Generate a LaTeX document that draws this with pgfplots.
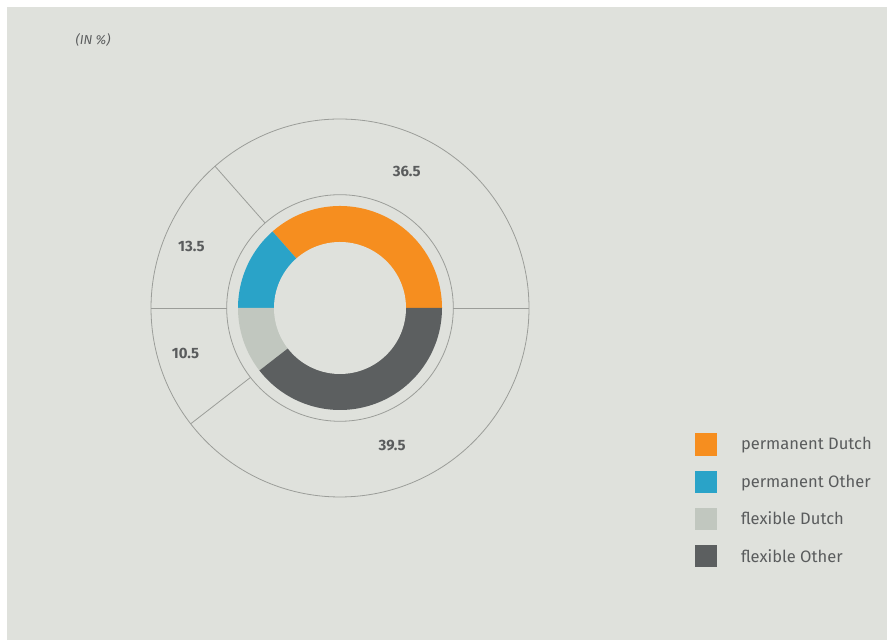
\documentclass[border=0pt]{standalone}
\usepackage{fontspec}
\setmainfont{Fira Sans}
\usepackage{pgfplots}
\pgfplotsset{compat=1.18}
\definecolor{bg}{HTML}{DFE1DC}
\definecolor{cPD}{HTML}{F68E1F}
\definecolor{cPO}{HTML}{2AA3C8}
\definecolor{cFD}{HTML}{C1C7BF}
\definecolor{cFO}{HTML}{5C5F60}
\definecolor{linec}{HTML}{9B9D99}
\definecolor{txt}{HTML}{5A5C5D}
% data (in %)
\def\vPD{36.5}\def\vPO{13.5}\def\vFD{10.5}\def\vFO{39.5}
\pgfmathsetmacro\aA{3.6*\vPD}
\pgfmathsetmacro\aB{3.6*(\vPD+\vPO)}
\pgfmathsetmacro\aC{3.6*(\vPD+\vPO+\vFD)}
\pgfmathsetmacro\aD{3.6*(\vPD+\vPO+\vFD+\vFO)}
\def\cx{340}\def\cy{332}
\begin{document}
\begin{tikzpicture}
\begin{axis}[
  scale only axis, width=887bp, height=640bp,
  xmin=0, xmax=887, ymin=0, ymax=640,
  hide axis, clip=false,
  legend image code/.code={\fill[#1] (0bp,-11.15bp) rectangle (22.3bp,11.15bp);},
  legend style={at={(axis cs:695,206.7)}, anchor=north west, draw=none, fill=none,
    inner sep=0pt, outer sep=0pt, row sep=15bp,
    font=\fontsize{16.6}{18}\selectfont, text=txt,
    nodes={inner sep=0pt},
    /tikz/every odd column/.append style={column sep=23.7bp}},
  legend cell align=left,
]
% white page and background panel
\addplot[fill=white, draw=none, forget plot] coordinates {(0,0) (887,0) (887,640) (0,640)} -- cycle;
\addplot[fill=bg, draw=none, forget plot] coordinates {(7,0) (887,0) (887,633) (7,633)} -- cycle;
% wedges
\addplot[fill=cPD, draw=none, domain=0:\aA, samples=120] ({\cx+102*cos(x)},{\cy+102*sin(x)}) -- (\cx,\cy) -- cycle;
\addplot[fill=cPO, draw=none, domain=\aA:\aB, samples=60] ({\cx+102*cos(x)},{\cy+102*sin(x)}) -- (\cx,\cy) -- cycle;
\addplot[fill=cFD, draw=none, domain=\aB:\aC, samples=60] ({\cx+102*cos(x)},{\cy+102*sin(x)}) -- (\cx,\cy) -- cycle;
\addplot[fill=cFO, draw=none, domain=\aC:\aD, samples=120] ({\cx+102*cos(x)},{\cy+102*sin(x)}) -- (\cx,\cy) -- cycle;
% hole
\addplot[fill=bg, draw=none, domain=0:360, samples=180, forget plot] ({\cx+66*cos(x)},{\cy+66*sin(x)}) -- cycle;
% ring and big circle
\addplot[draw=linec, line width=0.8bp, domain=0:360, samples=180, forget plot] ({\cx+113.3*cos(x)},{\cy+113.3*sin(x)});
\addplot[draw=linec, line width=0.8bp, domain=0:360, samples=240, forget plot] ({\cx+189*cos(x)},{\cy+189*sin(x)});
% radial separators
\addplot[draw=linec, line width=0.8bp, domain=113.3:189, samples=2, forget plot] ({\cx+x*cos(0)},{\cy+x*sin(0)});
\addplot[draw=linec, line width=0.8bp, domain=113.3:189, samples=2, forget plot] ({\cx+x*cos(\aA)},{\cy+x*sin(\aA)});
\addplot[draw=linec, line width=0.8bp, domain=113.3:189, samples=2, forget plot] ({\cx+x*cos(\aB)},{\cy+x*sin(\aB)});
\addplot[draw=linec, line width=0.8bp, domain=113.3:189, samples=2, forget plot] ({\cx+x*cos(\aC)},{\cy+x*sin(\aC)});
% value labels
\begin{scope}[every node/.style={font=\fontsize{15}{17}\selectfont\bfseries, text=txt, inner sep=0pt}]
\node at (406.7,468.3) {36.5};
\node at (191.3,393.7) {13.5};
\node at (185.5,286.2) {10.5};
\node at (392.2,194.2) {39.5};
\end{scope}
\node[font=\fontsize{13}{15}\selectfont\itshape, text=txt, anchor=west, inner sep=0pt] at (75.5,600.2) {(IN \%)};
\legend{permanent Dutch, permanent Other, flexible Dutch, flexible Other}
\end{axis}
\end{tikzpicture}
\end{document}
